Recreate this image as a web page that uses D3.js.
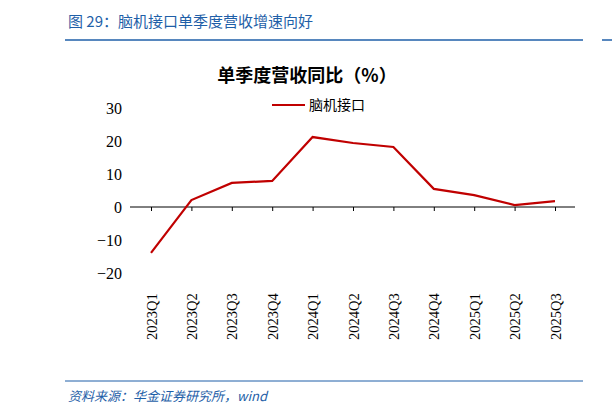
<!DOCTYPE html><html><head><meta charset="utf-8"><script src="https://cdn.jsdelivr.net/npm/d3@7"></script>
<style>body{margin:0;background:#fff}svg{font-family:"Times New Roman","Liberation Serif",serif}</style></head><body>
<svg id="c" width="612" height="417"></svg>
<script>
const categories=["2023Q1","2023Q2","2023Q3","2023Q4","2024Q1","2024Q2","2024Q3","2024Q4","2025Q1","2025Q2","2025Q3"];
const values=[-13.9,2.1,7.3,7.9,21.2,19.4,18.2,5.5,3.6,0.6,1.8];
const yTicks=[-20,-10,0,10,20,30];
const svg=d3.select("#c");
const cjk='"Noto Sans CJK SC",sans-serif';
svg.append("text").attr("x",68).attr("y",27).attr("fill","#1f5fa8").attr("font-size",15).attr("font-family",cjk).text("图 29：脑机接口单季度营收增速向好");
svg.append("line").attr("x1",65).attr("x2",583).attr("y1",40).attr("y2",40).attr("stroke","#1f5fa8").attr("stroke-width",1.5);
svg.append("line").attr("x1",602).attr("x2",612).attr("y1",40).attr("y2",40).attr("stroke","#1f5fa8").attr("stroke-width",1.5);
svg.append("line").attr("x1",65).attr("x2",583).attr("y1",381).attr("y2",381).attr("stroke","#1f5fa8").attr("stroke-width",1);
svg.append("text").attr("x",68).attr("y",401).attr("fill","#1f5fa8").attr("font-size",13).attr("font-style","italic").attr("font-family",cjk).text("资料来源：华金证券研究所，wind");
svg.append("text").attr("x",307).attr("y",82).attr("text-anchor","middle").attr("font-size",18).attr("font-weight","bold").attr("font-family",cjk).text("单季度营收同比（%）");
svg.append("line").attr("x1",272).attr("x2",305).attr("y1",105).attr("y2",105).attr("stroke","#c00000").attr("stroke-width",2);
svg.append("text").attr("x",309).attr("y",110).attr("font-size",14).attr("font-family",cjk).text("脑机接口");
const y=d3.scaleLinear().domain([-20,30]).range([273,108]);
const x=d3.scalePoint().domain(categories).range([151,555]).padding(0);
const ya=svg.append("g").attr("transform","translate(130,0)").call(d3.axisLeft(y).tickValues(yTicks).tickSize(0).tickPadding(8));
ya.select(".domain").remove();
ya.selectAll("text").attr("font-size",16).attr("fill","#000").attr("font-family",'"Liberation Serif",serif');
const xa=svg.append("g").attr("transform",`translate(0,${y(0)})`).call(d3.axisBottom(x).tickSize(4).tickSizeOuter(0));
xa.select(".domain").attr("d","M130,0H575").attr("stroke","#000");
xa.selectAll("line").attr("stroke","#000");
xa.selectAll("text").attr("font-size",14.5).attr("fill","#000").attr("font-family",'"Liberation Serif",serif')
 .attr("x",0).attr("y",0).attr("dy","0.35em").attr("text-anchor","start")
 .attr("transform",`translate(0,${340-y(0)}) rotate(-90)`);
svg.append("path").datum(values).attr("fill","none").attr("stroke","#c00000").attr("stroke-width",2.2)
 .attr("d",d3.line().x((d,i)=>x(categories[i])).y(d=>y(d)));
</script></body></html>
